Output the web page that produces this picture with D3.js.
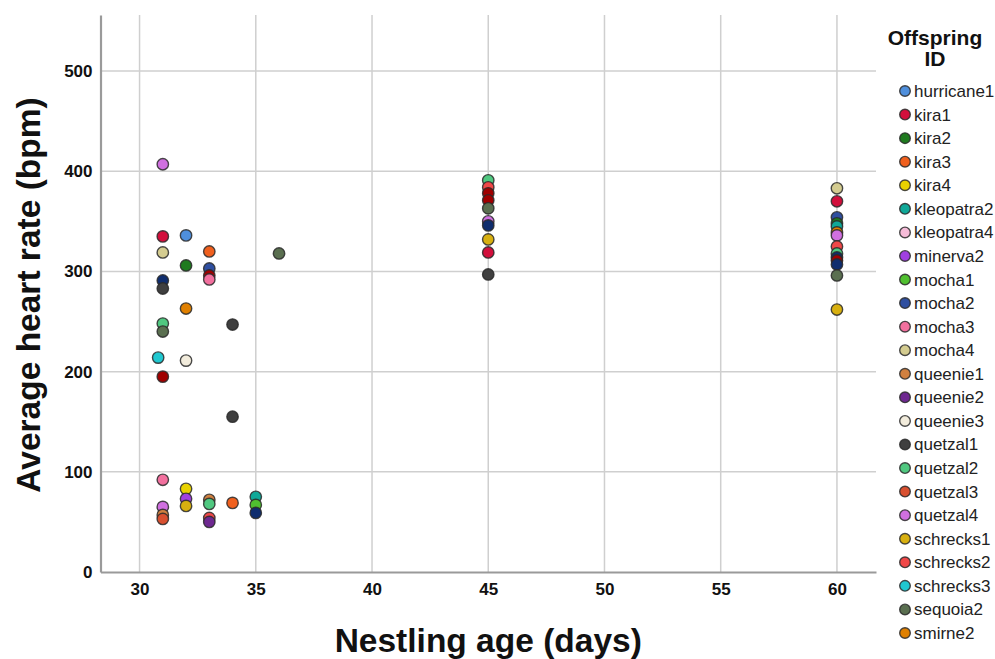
<!DOCTYPE html>
<html>
<head>
<meta charset="utf-8">
<script src="https://cdn.jsdelivr.net/npm/d3@7"></script>
<style>
  html, body { margin: 0; padding: 0; background: #ffffff; }
  svg { display: block; }
</style>
</head>
<body>
<svg id="chart" width="995" height="659"></svg>
<script>
// Offspring identifiers and their marker colours
const offspringIds = [
  "hurricane1", "kira1", "kira2", "kira3", "kira4", "kleopatra2", "kleopatra4",
  "minerva2", "mocha1", "mocha2", "mocha3", "mocha4", "queenie1", "queenie2",
  "queenie3", "quetzal1", "quetzal2", "quetzal3", "quetzal4", "schrecks1",
  "schrecks2", "schrecks3", "sequoia2", "smirne2", "smirne3", "smirne4"
];
const offspringColors = [
  "#4f8fdc", "#d20f3c", "#1f7a1f", "#f0601e", "#e8d200", "#10a898", "#f6bcd8",
  "#a040e0", "#50c030", "#2f4fa0", "#f2709e", "#d4cc90", "#d08040", "#6e2890",
  "#f2ecdc", "#3f3f3f", "#50c880", "#d85030", "#d070e0", "#d8b010",
  "#f04848", "#20c8d0", "#5a6f50", "#e08000", "#a00000", "#0f2d6e"
];
const legendCount = 24;

// Measurements: nestling age (days), average heart rate (bpm), offspring id
const ages = [
  31, 31, 31, 31, 31, 31, 31, 30.8, 31, 31, 31, 31, 31,
  32, 32, 32, 32, 32, 32, 32,
  33, 33, 33, 33, 33, 33, 33, 33,
  34, 34, 34,
  35, 35, 35,
  36,
  45, 45, 45, 45, 45, 45, 45, 45, 45, 45,
  60, 60, 60, 60, 60, 60, 60, 60, 60, 60, 60, 60, 60, 60
];
const bpm = [
  407, 335, 319, 291, 283, 248, 240, 214, 195, 92, 65, 57, 53,
  336, 306, 263, 211, 83, 73, 66,
  320, 303, 296, 292, 72, 68, 54, 50,
  247, 155, 69,
  75, 67, 59,
  318,
  391, 384, 378, 371, 363, 350, 346, 332, 319, 297,
  383, 370, 354, 348, 345, 339, 336, 325, 318, 314, 311, 307, 296, 262
];
const pointIds = [
  "quetzal4", "kira1", "mocha4", "smirne4", "quetzal1", "quetzal2", "sequoia2", "schrecks3", "smirne3", "mocha3", "quetzal4", "queenie1", "quetzal3",
  "hurricane1", "kira2", "smirne2", "queenie3", "kira4", "minerva2", "schrecks1",
  "kira3", "mocha2", "smirne3", "mocha3", "queenie1", "quetzal2", "schrecks2", "queenie2",
  "quetzal1", "quetzal1", "kira3",
  "kleopatra2", "mocha1", "smirne4",
  "sequoia2",
  "quetzal2", "schrecks2", "smirne3", "smirne3", "sequoia2", "quetzal4", "smirne4", "schrecks1", "kira1", "quetzal1",
  "mocha4", "kira1", "mocha2", "kira2", "kleopatra2", "smirne2", "quetzal4", "schrecks2", "quetzal2", "smirne4", "smirne3", "smirne4", "sequoia2", "schrecks1"
];

// Axis ticks
const xTicks = [30, 35, 40, 45, 50, 55, 60];
const yTicks = [0, 100, 200, 300, 400, 500];

const svg = d3.select("#chart");
const plot = { left: 100.5, right: 876, top: 15, bottom: 572 };

const x = d3.scaleLinear().domain([28.32, 61.68]).range([plot.left, plot.right]);
const y = d3.scaleLinear().domain([0, 556]).range([plot.bottom, plot.top]);
const color = d3.scaleOrdinal().domain(offspringIds).range(offspringColors);

const tickFont = "'Liberation Sans Narrow', 'Arial Narrow', 'Liberation Sans', Arial, sans-serif";
const titleFont = "'Liberation Sans', Arial, sans-serif";

// Gridlines
const grid = svg.append("g").attr("class", "grid");
grid.selectAll("line.v").data(xTicks).join("line")
  .attr("class", "v")
  .attr("x1", d => x(d)).attr("x2", d => x(d))
  .attr("y1", plot.top).attr("y2", plot.bottom)
  .attr("stroke", "#cfcfcf").attr("stroke-width", 1.5);
grid.selectAll("line.h").data(yTicks.filter(d => d > 0)).join("line")
  .attr("class", "h")
  .attr("x1", plot.left).attr("x2", plot.right)
  .attr("y1", d => y(d)).attr("y2", d => y(d))
  .attr("stroke", "#cfcfcf").attr("stroke-width", 1.5);

// Axes
const xAxis = svg.append("g")
  .attr("transform", `translate(0,${plot.bottom})`)
  .call(d3.axisBottom(x).tickValues(xTicks).tickSize(0).tickPadding(11));
const yAxis = svg.append("g")
  .attr("transform", `translate(${plot.left},0)`)
  .call(d3.axisLeft(y).tickValues(yTicks).tickSize(0).tickPadding(8));

[xAxis, yAxis].forEach(a => {
  a.select(".domain").attr("stroke", "#9a9a9a").attr("stroke-width", 2.2);
  a.selectAll("text")
    .attr("font-family", tickFont)
    .attr("font-weight", "bold")
    .attr("font-size", 17)
    .attr("fill", "#111");
});

// Axis titles
svg.append("text")
  .attr("x", x(45)).attr("y", 652)
  .attr("text-anchor", "middle")
  .attr("font-family", titleFont).attr("font-weight", "bold").attr("font-size", 33.5)
  .attr("fill", "#111")
  .text("Nestling age (days)");
svg.append("text")
  .attr("transform", "translate(40,295) rotate(-90)")
  .attr("text-anchor", "middle")
  .attr("font-family", titleFont).attr("font-weight", "bold").attr("font-size", 33.5)
  .attr("fill", "#111")
  .text("Average heart rate (bpm)");

// Points
svg.append("g").selectAll("circle").data(d3.range(ages.length)).join("circle")
  .attr("cx", i => x(ages[i]))
  .attr("cy", i => y(bpm[i]))
  .attr("r", 5.7)
  .attr("fill", i => color(pointIds[i]))
  .attr("stroke", "#2a2a2a")
  .attr("stroke-opacity", 0.85)
  .attr("stroke-width", 1.4);

// Legend
const legend = svg.append("g");
legend.append("text")
  .attr("x", 935).attr("y", 45)
  .attr("text-anchor", "middle")
  .attr("font-family", titleFont).attr("font-weight", "bold").attr("font-size", 21)
  .attr("fill", "#111")
  .text("Offspring");
legend.append("text")
  .attr("x", 935).attr("y", 66)
  .attr("text-anchor", "middle")
  .attr("font-family", titleFont).attr("font-weight", "bold").attr("font-size", 21)
  .attr("fill", "#111")
  .text("ID");

const itemY = d3.scaleLinear().domain([0, legendCount - 1]).range([91, 633]);
const items = legend.selectAll("g.item").data(offspringIds.slice(0, legendCount)).join("g")
  .attr("class", "item")
  .attr("transform", (d, i) => `translate(905,${itemY(i)})`);
items.append("circle")
  .attr("r", 5.3)
  .attr("fill", d => color(d))
  .attr("stroke", "#2a2a2a")
  .attr("stroke-opacity", 0.85)
  .attr("stroke-width", 1.4);
items.append("text")
  .attr("x", 9).attr("y", 6)
  .attr("font-family", titleFont).attr("font-size", 17)
  .attr("fill", "#222")
  .text(d => d);
</script>
</body>
</html>
